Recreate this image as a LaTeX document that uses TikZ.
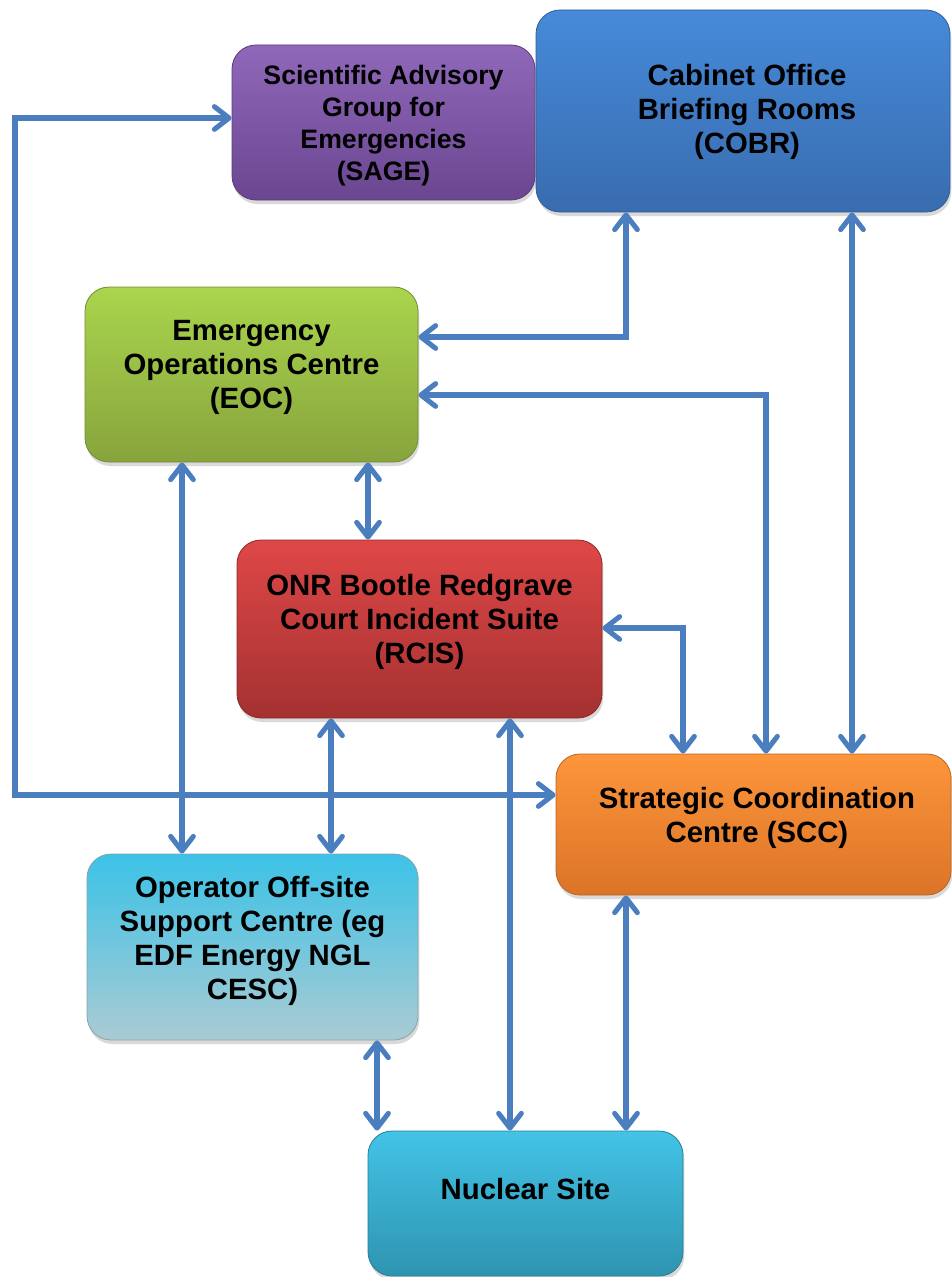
\documentclass[tikz,border=0pt]{standalone}
\usepackage{fontspec}
\setmainfont{Liberation Sans}
\usetikzlibrary{arrows.meta, shadows}

\definecolor{linkblue}{HTML}{4A7EBE}
\definecolor{sagetop}{HTML}{9068BA}
\definecolor{sagebot}{HTML}{6A4690}
\definecolor{cobrtop}{HTML}{468AD9}
\definecolor{cobrbot}{HTML}{396CAF}
\definecolor{eoctop}{HTML}{AAD54D}
\definecolor{eocbot}{HTML}{87A43D}
\definecolor{rcistop}{HTML}{DF4747}
\definecolor{rcisbot}{HTML}{A43131}
\definecolor{scctop}{HTML}{FD953B}
\definecolor{sccbot}{HTML}{DB7427}
\definecolor{opertop}{HTML}{3CC2E7}
\definecolor{operbot}{HTML}{AACBD3}
\definecolor{nuctop}{HTML}{43C3E7}
\definecolor{nucbot}{HTML}{2E94B0}

\tikzset{
    barb/.tip={Straight Barb[round, length=11pt, width=17pt]},
    panel/.style 2 args={rectangle, rounded corners=18pt, line width=0.6pt,
        minimum width=#1*0.75pt, minimum height=#2*0.75pt,
        drop shadow={shadow xshift=1pt, shadow yshift=-3pt, opacity=0.3}},
    txt/.style={align=center, inner sep=0pt, font=\bfseries\fontsize{22}{25.5}\selectfont},
    link/.style={draw=linkblue, line width=3.8pt, barb-barb}
}

\begin{document}
\begin{tikzpicture}[x=0.75pt, y=-0.75pt]
    \useasboundingbox (0,0) rectangle (952,1277);

    % boxes
    \node[panel={303}{155}, top color=sagetop, bottom color=sagebot, draw=sagebot!85!black] (sage) at (383.5,122.5) {};
    \node[panel={414}{202}, top color=cobrtop, bottom color=cobrbot, draw=cobrbot!85!black] (cobr) at (743,111) {};
    \node[panel={333}{175}, top color=eoctop, bottom color=eocbot, draw=eocbot!85!black] (eoc) at (251.5,374.5) {};
    \node[panel={365}{178}, top color=rcistop, bottom color=rcisbot, draw=rcisbot!85!black] (rcis) at (419.5,629) {};
    \node[panel={395}{141}, top color=scctop, bottom color=sccbot, draw=sccbot!85!black] (scc) at (753.5,824.5) {};
    \node[panel={331}{186}, top color=opertop, bottom color=operbot, draw=operbot!80!black] (oper) at (252.5,947) {};
    \node[panel={315}{145}, top color=nuctop, bottom color=nucbot, draw=nucbot!85!black] (nuc) at (525.5,1203.5) {};

    % labels
    \node[txt, font=\bfseries\fontsize{20}{24}\selectfont] (sagetxt) at (383.5,126)
        {Scientific Advisory\\Group for\\Emergencies\\(SAGE)};
    \node[txt] (cobrtxt) at (747,112) {Cabinet Office\\Briefing Rooms\\(COBR)};
    \node[txt] (eoctxt) at (251.5,367) {Emergency\\Operations Centre\\(EOC)};
    \node[txt] (rcistxt) at (419.5,622) {ONR Bootle Redgrave\\Court Incident Suite\\(RCIS)};
    \node[txt] (scctxt) at (757,818) {Strategic Coordination\\Centre (SCC)};
    \node[txt] (opertxt) at (252.5,941) {Operator Off-site\\Support Centre (eg\\EDF Energy NGL\\CESC)};
    \node[txt] (nuctxt) at (525.5,1189) {Nuclear Site};

    % corners of the bent connectors
    \coordinate (loopa) at (15,118);
    \coordinate (loopb) at (15,795);
    \coordinate (cobrbend) at (626,337);
    \coordinate (eocbend) at (766,395);
    \coordinate (rcisbend) at (683,628);

    % connectors
    \draw[link] (sage.west |- loopa) -- (loopa) -- (loopb) -- (scc.west |- loopb);
    \draw[link] (cobr.south -| cobrbend) -- (cobrbend) -- (eoc.east |- cobrbend);
    \draw[link] (eoc.east |- eocbend) -- (eocbend) -- (scc.north -| eocbend);
    \draw[link] (rcis.east |- rcisbend) -- (rcisbend) -- (scc.north -| rcisbend);
    \draw[link] (cobr.south -| 852,0) -- (scc.north -| 852,0);
    \draw[link] (eoc.south -| 182,0) -- (oper.north -| 182,0);
    \draw[link] (eoc.south -| 368,0) -- (rcis.north -| 368,0);
    \draw[link] (rcis.south -| 331,0) -- (oper.north -| 331,0);
    \draw[link] (rcis.south -| 510,0) -- (nuc.north -| 510,0);
    \draw[link] (scc.south -| 626,0) -- (nuc.north -| 626,0);
    \draw[link] (oper.south -| 377,0) -- (nuc.north -| 377,0);

\end{tikzpicture}
\end{document}
